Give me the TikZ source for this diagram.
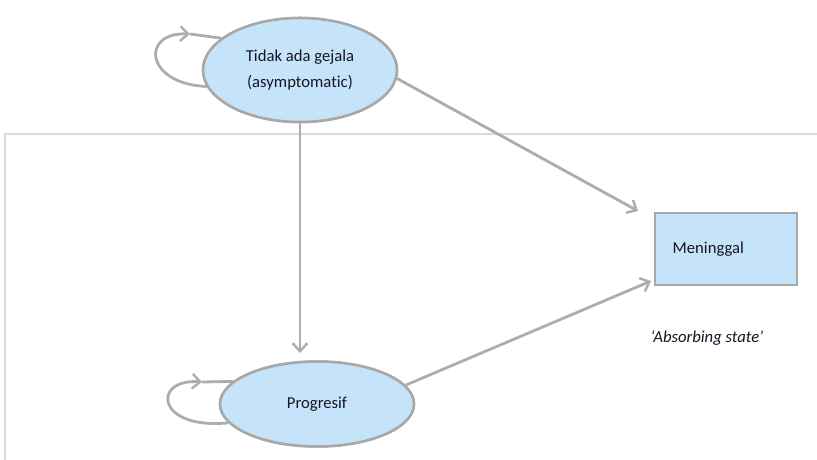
\documentclass[tikz,border=0pt]{standalone}
\usepackage{fontspec}
\setmainfont{Carlito}[Ligatures={NoCommon}]
\usetikzlibrary{shapes.geometric,arrows.meta}
\definecolor{stbl}{HTML}{C6E4F9}
\definecolor{stgr}{HTML}{A8A8A8}
\definecolor{argr}{HTML}{ADADAD}
\definecolor{frgr}{HTML}{DADADA}
\definecolor{txt}{HTML}{151525}
\tikzset{
  stateell/.style={ellipse, draw=stgr, line width=1.9pt, fill=stbl, inner sep=0pt, text=txt, align=center, font=\fontsize{12.5}{20}\selectfont},
  statebox/.style={rectangle, draw=stgr, line width=1.3pt, fill=stbl, text=txt, font=\fontsize{12.5}{20}\selectfont},
  conn/.style={draw=argr, line width=2.1pt, -{Straight Barb[length=6pt,width=11pt,line width=1.8pt]}},
  plain/.style={draw=argr, line width=2.1pt},
  frame/.style={draw=frgr, line width=0.9pt}
}
\begin{document}
\begin{tikzpicture}[x=0.75pt,y=-0.75pt]
\useasboundingbox (0,0) rectangle (817,460);
\fill[white] (0,0) rectangle (817,460);
% frame lines
\draw[frame] (5,460) -- (5,134) -- (817,134);
% free ends
\coordinate (m1) at (638,211);
\coordinate (m2) at (651,281);
\coordinate (v) at (300,353);
\coordinate (l1) at (190,34);
\coordinate (l2) at (202,382);
% nodes (positions)
\node[stateell, minimum width=145.5pt, minimum height=78pt] (top) at (300,70) {Tidak ada gejala\\(asymptomatic)};
\node[stateell, minimum width=145.5pt, minimum height=63.75pt] (bot) at (317,404) {Progresif};
% self loops (drawn under the ellipses)
\draw[conn] (top.190) .. controls (145,84) and (140,32) .. (l1);
\draw[plain] (l1) -- (top.158);
\draw[conn] (bot.192) .. controls (155,430) and (152,378) .. (l2);
\draw[plain] (l2) -- (bot.165);
% ellipses again, covering the loop ends
\node[stateell, minimum width=145.5pt, minimum height=78pt] at (top) {Tidak ada gejala\\(asymptomatic)};
\node[stateell, minimum width=145.5pt, minimum height=63.75pt] at (bot) {Progresif};
\node[statebox, minimum width=106.5pt, minimum height=54pt, text width=80pt, inner xsep=13pt, align=left] (dead) at (726,249) {Meninggal};
\node[text=txt, font=\fontsize{12.5}{14}\selectfont\itshape] (abs) at (707,338) {‘Absorbing state’};
% connectors
\draw[conn] (top.-5) -- (m1);
\draw[conn] (bot.12) -- (m2);
\draw[conn] (top.south -| v) -- (v);
\end{tikzpicture}
\end{document}
